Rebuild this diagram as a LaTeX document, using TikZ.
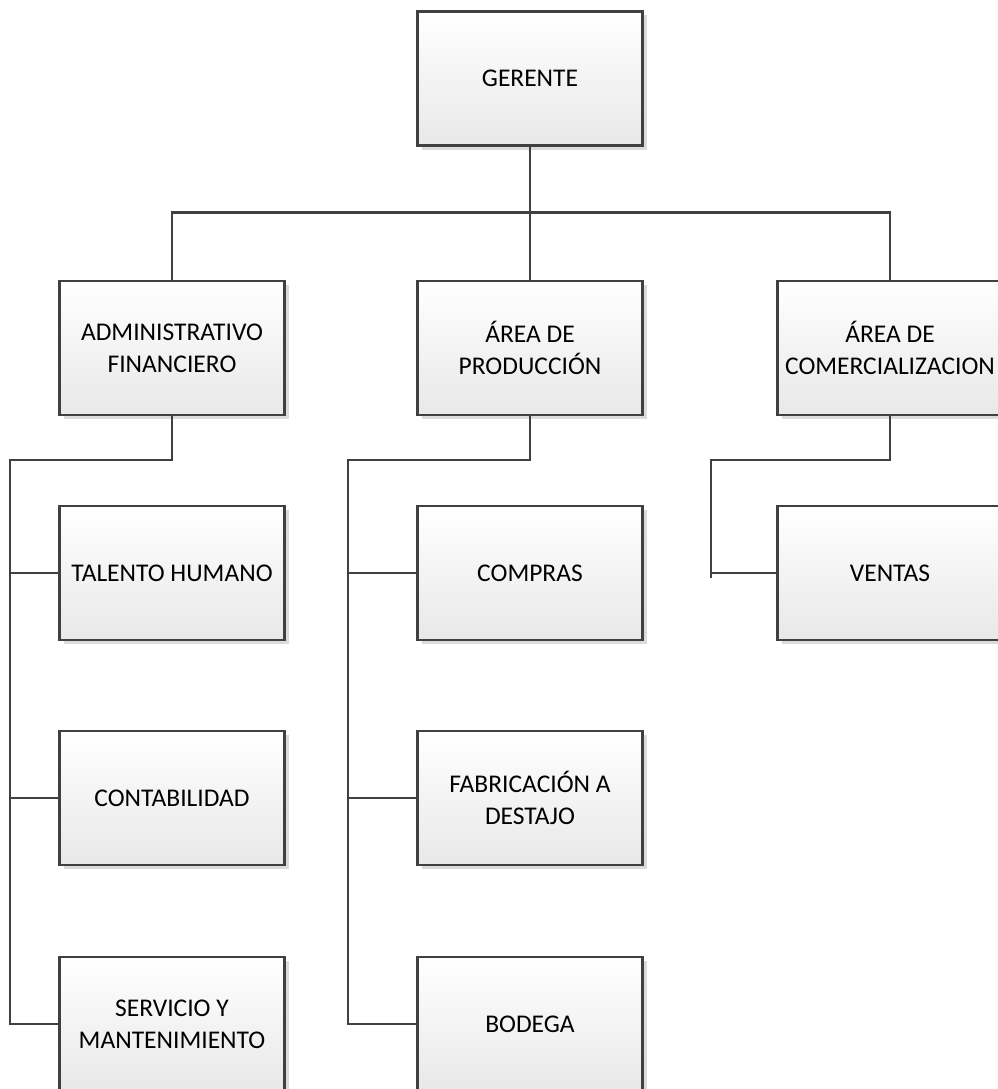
\documentclass[tikz,border=0pt]{standalone}
\usepackage{fontspec}
\setmainfont{Carlito}
\usetikzlibrary{shadows}
\definecolor{linegray}{HTML}{404040}

\tikzset{
  orgbox/.style={draw=linegray, line width=2.6pt, minimum width=225pt, minimum height=134pt,
    inner sep=0pt, align=center, top color=white, bottom color=black!9,
    drop shadow={shadow xshift=4pt, shadow yshift=-4pt, fill=black!14, opacity=1},
    font=\fontsize{25.5}{32}\selectfont},
  conn/.style={draw=linegray, line width=2.6pt}
}

\begin{document}
\begin{tikzpicture}[x=1pt,y=-1pt]
      \useasboundingbox (0,0) rectangle (997,1089);
      % top
      \node[orgbox] (ger) at (530,78.5) {GERENTE};
      % second level
      \node[orgbox] (adm) at (172,348) {ADMINISTRATIVO\\FINANCIERO};
      \node[orgbox] (prod) at (530,348) {ÁREA DE\\PRODUCCIÓN};
      \node[orgbox] (com) at (890,348) {ÁREA DE\\COMERCIALIZACION};
      % third level
      \node[orgbox] (tal) at (172,573) {TALENTO HUMANO};
      \node[orgbox] (cont) at (172,798) {CONTABILIDAD};
      \node[orgbox] (serv) at (172,1024) {SERVICIO Y\\MANTENIMIENTO};
      \node[orgbox] (comp) at (530,573) {COMPRAS};
      \node[orgbox] (fab) at (530,798) {FABRICACIÓN A\\DESTAJO};
      \node[orgbox] (bod) at (530,1024) {BODEGA};
      \node[orgbox] (ven) at (890,573) {VENTAS};
      \coordinate (admbus) at (10,460);
      \coordinate (prodbus) at (348,460);
      \coordinate (combus) at (711,460);
      \coordinate (venend) at (711,578);
      % connectors
      \draw[conn] (ger.south) -- (prod.north);
      \draw[conn] (adm.north) -- ++(0,-67) -| (com.north);
      \draw[conn] (adm.south) |- (admbus) |- (serv.west);
      \draw[conn] (admbus |- tal.west) -- (tal.west);
      \draw[conn] (admbus |- cont.west) -- (cont.west);
      \draw[conn] (prod.south) |- (prodbus) |- (bod.west);
      \draw[conn] (prodbus |- comp.west) -- (comp.west);
      \draw[conn] (prodbus |- fab.west) -- (fab.west);
      \draw[conn] (com.south) |- (combus) -- (venend);
      \draw[conn] (combus |- ven.west) -- (ven.west);
    \end{tikzpicture}
\end{document}
